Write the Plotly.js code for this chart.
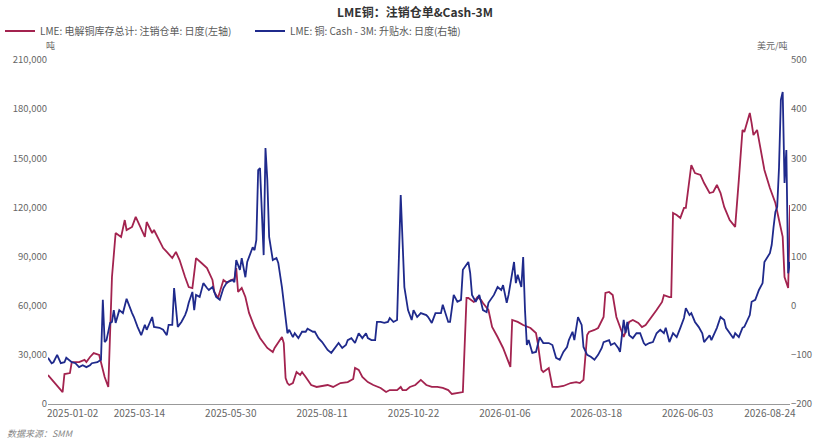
<!DOCTYPE html>
<html>
<head>
<meta charset="utf-8">
<script src="https://cdn.plot.ly/plotly-3.0.1.min.js"></script>
<style>
  html, body { margin: 0; padding: 0; background: #fff; }
  #chart { width: 830px; height: 443px; }
</style>
</head>
<body>
<div id="chart"></div>
<script>
// trading-day index on x, ticks every 50 days
const tickIdx = [0, 50, 100, 150, 200, 250, 300, 350, 400];
const tickLabels = ['2025-01-02', '2025-03-14', '2025-05-30', '2025-08-11', '2025-10-22',
  '2026-01-06', '2026-03-18', '2026-06-03', '2026-08-24'];

// LME cancelled warrants, tonnes (left axis)
const warrantDay = [0, 8, 9, 12, 13, 17, 20, 21, 23, 25, 28, 31, 33, 35, 37, 40, 42, 43, 46, 48,
  50, 53, 54, 57, 58, 61, 63, 65, 68, 70, 72, 75, 77, 79, 81, 84, 87, 90, 91, 93,
  96, 98, 100, 102, 103, 104, 106, 108, 110, 113, 116, 120, 123, 124, 126, 128, 129, 130, 131, 132,
  134, 136, 138, 139, 141, 144, 147, 153, 156, 160, 164, 167, 168, 170, 172, 175, 178, 182, 185, 187,
  191, 193, 194, 196, 198, 201, 204, 207, 210, 213, 216, 219, 221, 224, 227, 229, 230, 233, 235, 237,
  238, 241, 243, 246, 249, 252, 253, 254, 257, 260, 264, 267, 268, 270, 271, 274, 276, 279, 282, 286,
  289, 291, 293, 295, 296, 299, 301, 304, 305, 307, 309, 311, 314, 315, 318, 320, 323, 325, 327, 330,
  333, 336, 337, 340, 341, 342, 344, 346, 348, 349, 351, 352, 354, 357, 359, 362, 364, 366, 368, 370,
  373, 376, 378, 380, 381, 384, 385, 386, 388, 390, 392, 395, 398, 400, 402, 403, 405, 406];
const warrants = [17700, 7300, 18300, 18900, 25600, 25600, 26900, 25600, 28700, 31100, 29900, 16500, 10400, 77500, 104400, 102000, 112300, 106200, 108100, 114200,
  109300, 102000, 111100, 104400, 106200, 100100, 95200, 92800, 89100, 92800, 87900, 77500, 71400, 70800, 89100, 86100, 83000, 75700, 68400, 64700,
  75700, 74000, 75700, 76300, 83000, 68400, 70800, 65300, 55600, 47000, 40300, 34200, 31700, 34200, 37800, 40900, 37200, 15900, 12800, 11600,
  12800, 19500, 17700, 19500, 16500, 11600, 10400, 11600, 10400, 12800, 13400, 15300, 22000, 20800, 16500, 13400, 11600, 9800, 7300, 8500,
  8500, 10400, 8500, 8500, 10400, 11600, 14700, 11600, 10400, 10400, 9800, 8500, 6100, 6700, 7300, 64700, 64700, 62300, 65300, 63500,
  61700, 57400, 47000, 40900, 34200, 25600, 22600, 51300, 50100, 48200, 46400, 43300, 37200, 20800, 19500, 22000, 10400, 10400, 11000, 12800,
  13400, 12800, 14700, 42100, 44000, 45200, 46400, 53100, 67800, 68400, 66500, 53100, 43300, 40900, 50100, 51300, 49500, 47000, 48200, 52500,
  57400, 62300, 66500, 65300, 65300, 116600, 115400, 113600, 119700, 119700, 138600, 145900, 141000, 139800, 134900, 128800, 129400, 133700, 128800, 120300,
  112300, 108100, 136800, 167300, 166100, 177700, 171500, 164200, 167300, 155100, 142900, 131900, 122700, 112300, 102000, 77500, 70800, 121500];

// LME copper Cash-3M spread, USD/t (right axis)
const spreadDay = [0, 2, 3, 5, 7, 9, 10, 13, 15, 17, 19, 21, 23, 24, 27, 29, 30, 31, 32, 34,
  35, 36, 37, 39, 41, 43, 46, 47, 49, 51, 53, 54, 57, 58, 61, 63, 65, 66, 68, 69,
  71, 73, 75, 76, 77, 79, 80, 81, 83, 85, 87, 88, 90, 92, 94, 96, 98, 101, 102, 103,
  105, 106, 108, 109, 112, 113, 114, 115, 116, 117, 118, 119, 120, 121, 123, 125, 126, 128, 130, 131,
  132, 134, 135, 137, 139, 141, 142, 145, 146, 148, 150, 152, 153, 155, 157, 159, 161, 163, 164, 166,
  168, 170, 172, 174, 175, 177, 179, 180, 182, 184, 186, 187, 189, 191, 193, 195, 197, 199, 200, 202,
  204, 207, 208, 210, 212, 215, 216, 219, 220, 222, 224, 226, 227, 230, 231, 232, 234, 236, 238, 240,
  241, 244, 246, 248, 249, 251, 252, 255, 256, 257, 259, 260, 261, 262, 263, 265, 267, 269, 271, 274,
  276, 278, 280, 282, 284, 285, 287, 288, 290, 292, 293, 295, 297, 299, 301, 303, 304, 307, 308, 310,
  312, 313, 315, 316, 317, 318, 320, 322, 324, 326, 327, 329, 331, 333, 335, 337, 338, 340, 342, 344,
  346, 348, 349, 351, 352, 354, 356, 358, 359, 362, 363, 366, 368, 370, 371, 373, 375, 376, 378, 380,
  381, 384, 385, 387, 389, 391, 392, 395, 396, 397, 398, 399, 400, 401, 402, 403, 404, 405, 406];
const spread = [-106, -117, -115, -100, -117, -115, -106, -115, -117, -125, -121, -125, -121, -117, -115, -110, 12, -74, -70, -35,
  -33, -9, -35, -9, -15, 14, -15, -23, -43, -60, -39, -49, -23, -43, -45, -49, -60, -39, -39, 36,
  -43, -33, -19, -9, 6, 28, -9, 22, 18, 46, 36, 32, 38, 18, 12, 36, 48, 52, 48, 93,
  73, 97, 58, 89, 119, 113, 134, 276, 280, 201, 103, 321, 256, 140, 93, 97, 87, 38, -23, -56,
  -49, -64, -56, -66, -53, -53, -47, -53, -53, -66, -74, -84, -90, -96, -86, -76, -86, -80, -70, -66,
  -76, -56, -66, -56, -66, -70, -70, -33, -33, -35, -33, -25, -33, -29, 225, 38, -9, -29, -9, -23,
  -15, -19, -23, -35, -15, -15, 2, -33, -33, 22, 8, 12, 73, 89, 67, 22, 8, 22, -9, -13,
  6, 22, 38, 32, 42, 6, 22, 89, 46, 63, 38, 99, -9, -80, -70, -96, -94, -64, -76, -76,
  -80, -106, -110, -94, -84, -70, -53, -70, -23, -39, -84, -100, -104, -110, -100, -86, -74, -70, -80, -76,
  -86, -94, -29, -56, -33, -60, -66, -56, -56, -76, -80, -76, -74, -56, -49, -56, -45, -74, -56, -64,
  -45, -25, -5, -19, -15, -33, -43, -56, -74, -60, -70, -45, -23, -29, -45, -56, -66, -56, -64, -45,
  -43, -19, 8, 12, 32, 46, 89, 107, 124, 160, 191, 201, 282, 419, 435, 250, 317, 66, 89];

const RED = '#a3234f';
const BLUE = '#1f2a8c';
const FONT = 'Noto Sans CJK SC, Noto Sans, sans-serif';
const xMax = 406;

// keep the end labels inside the axis, like the source chart does
const labelPos = tickIdx.map((v, i) => {
  if (i === 0) return v + 13.5;
  if (i === tickIdx.length - 1) return v - 5;
  return v;
});

const traces = [
  {
    x: warrantDay, y: warrants, type: 'scatter', mode: 'lines',
    name: 'LME: 电解铜库存总计: 注销仓单: 日度(左轴)',
    line: {color: RED, width: 1.8}, yaxis: 'y'
  },
  {
    x: spreadDay, y: spread, type: 'scatter', mode: 'lines',
    name: 'LME: 铜: Cash - 3M: 升贴水: 日度(右轴)',
    line: {color: BLUE, width: 1.8}, yaxis: 'y2'
  }
];

const layout = {
  width: 830, height: 443,
  margin: {l: 48, r: 40, t: 60, b: 39},
  paper_bgcolor: '#fff', plot_bgcolor: '#fff',
  font: {family: FONT, size: 10, color: '#666'},
  title: {
    text: '<b>LME铜：注销仓单&Cash-3M</b>',
    font: {family: FONT, size: 12, color: '#333'},
    x: 0.5, xanchor: 'center', yref: 'container', y: 0.972, yanchor: 'middle'
  },
  showlegend: true,
  legend: {
    orientation: 'h', xref: 'container', x: 0, xanchor: 'left', yref: 'container', y: 0.93, yanchor: 'middle',
    font: {family: FONT, size: 10, color: '#595959'},
    itemwidth: 30, entrywidth: 205, tracegroupgap: 0, bgcolor: 'rgba(0,0,0,0)'
  },
  xaxis: {
    range: [0, xMax], tickmode: 'array', tickvals: labelPos, ticktext: tickLabels,
    showgrid: false, zeroline: false, showline: true, linecolor: '#999', linewidth: 1,
    ticks: '', tickfont: {size: 10, color: '#666'}, fixedrange: true
  },
  yaxis: {
    range: [0, 210000], dtick: 30000, tick0: 0, tickformat: ',d',
    showgrid: false, zeroline: false, showline: false, ticks: '',
    tickfont: {size: 9.5, color: '#666'}, fixedrange: true
  },
  yaxis2: {
    range: [-200, 500], dtick: 100, tick0: 0, overlaying: 'y', side: 'right',
    showgrid: false, zeroline: false, showline: false, ticks: '',
    tickfont: {size: 9.5, color: '#666'}, fixedrange: true
  },
  annotations: [
    {text: '吨', xref: 'paper', yref: 'paper', x: 0.003, y: 1.041, xanchor: 'center', yanchor: 'middle',
     showarrow: false, font: {size: 9, color: '#666'}},
    {text: '美元/吨', xref: 'paper', yref: 'paper', x: 1, y: 1.041, xanchor: 'right', yanchor: 'middle',
     showarrow: false, font: {size: 9, color: '#666'}},
    {text: '<i>数据来源：SMM</i>', xref: 'paper', yref: 'paper', x: -0.058, y: -0.085, xanchor: 'left', yanchor: 'middle',
     showarrow: false, font: {size: 9, color: '#888'}}
  ]
};

Plotly.newPlot('chart', traces, layout, {displayModeBar: false, staticPlot: true});
</script>
</body>
</html>
